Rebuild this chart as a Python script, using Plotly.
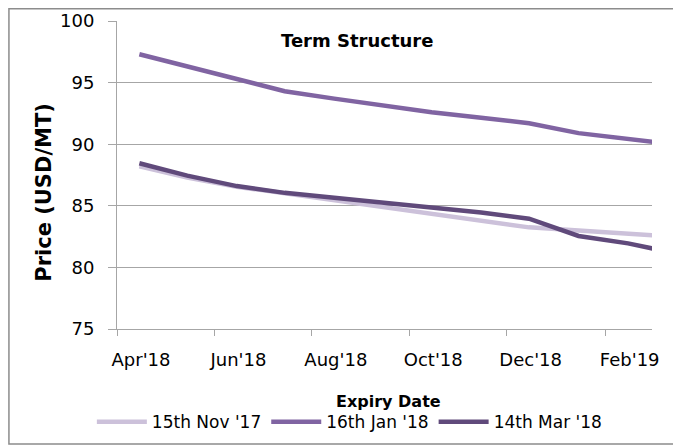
import plotly.graph_objects as go

# expiry months (plotted mid-month)
expiry = ["2018-04-15", "2018-05-15", "2018-06-15", "2018-07-15", "2018-08-15",
          "2018-09-15", "2018-10-15", "2018-11-15", "2018-12-15", "2019-01-15",
          "2019-02-15", "2019-03-15"]

nov17 = [88.2, 87.3, 86.55, 86.0, 85.5, 84.85, 84.3, 83.75, 83.25, 83.0, 82.8, 82.5]
jan18 = [97.3, 96.3, 95.3, 94.3, 93.7, 93.1, 92.6, 92.15, 91.7, 90.9, 90.45, 90.0]
mar18 = [88.45, 87.45, 86.6, 86.05, 85.65, 85.25, 84.85, 84.45, 83.95, 82.55, 81.95, 81.2]

series = [
    ("15th Nov '17", nov17, "#CCC1DA"),
    ("16th Jan '18", jan18, "#8064A2"),
    ("14th Mar '18", mar18, "#604A7B"),
]

font = "DejaVu Sans"
grid = "#A6A6A6"

fig = go.Figure()
for name, vals, col in series:
    fig.add_trace(go.Scatter(x=expiry, y=vals, mode="lines", name=name,
                             line=dict(color=col, width=4.5)))

# page body has an 8px margin, so the plot box is placed 8px up/left
fig.update_layout(
    width=681, height=448,
    margin=dict(l=109, r=37, t=13, b=127, autoexpand=False),
    plot_bgcolor="white", paper_bgcolor="white",
    font=dict(family=font, size=18, color="black"),
    showlegend=True,
    legend=dict(orientation="h", xref="container", x=0.502, xanchor="center",
                y=-0.244, yanchor="top", font=dict(size=17),
                bgcolor="rgba(0,0,0,0)",
                itemwidth=50, tracegroupgap=0),
)

fig.update_xaxes(
    type="date", range=["2018-04-01", "2019-03-02"], automargin=False,
    tick0="2018-04-01", dtick="M2", tickformat="%b'%y",
    ticks="outside", ticklen=6, tickcolor=grid, ticklabelshift=24,
    ticklabelstandoff=8,
    showline=True, linecolor=grid, linewidth=1, showgrid=False,
    tickfont=dict(size=18),
)
fig.update_yaxes(
    range=[75, 100], dtick=5, ticks="outside", ticklen=8, tickcolor=grid,
    automargin=False, ticklabelstandoff=10,
    showline=True, linecolor=grid, linewidth=1,
    showgrid=True, gridcolor=grid, gridwidth=1, zeroline=False,
    tickfont=dict(size=18),
)

# chart title, axis titles
fig.add_annotation(text="<b>Term Structure</b>", xref="paper", yref="paper",
                   x=0.449, y=0.938, yanchor="middle", showarrow=False, font=dict(size=18))
fig.add_annotation(text="<b>Expiry Date</b>", xref="paper", yref="paper",
                   x=0.507, y=-0.234, yanchor="middle", showarrow=False, font=dict(size=16))
fig.add_annotation(text="<b>Price (USD/MT)</b>", xref="paper", yref="paper",
                   x=-0.163, y=0.445, yanchor="middle", textangle=-90, showarrow=False,
                   font=dict(size=21))

# outer chart border
fig.add_shape(type="rect", xref="paper", yref="paper",
              x0=-0.2020, x1=1.047, y0=-0.373, y1=1.040,
              line=dict(color="#8C8C8C", width=1.5))

fig.write_html("out.html")
